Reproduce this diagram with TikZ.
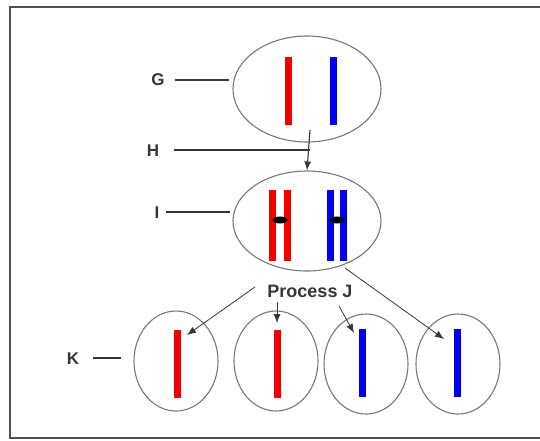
\documentclass[tikz,border=0pt]{standalone}
\usepackage{fontspec}
\setmainfont{Liberation Sans}
\usetikzlibrary{shapes.geometric,arrows.meta}
\definecolor{cellgray}{RGB}{120,120,120}
\definecolor{framegray}{RGB}{80,80,80}
\definecolor{linegray}{RGB}{55,55,55}
\definecolor{chrred}{RGB}{245,0,0}
\definecolor{chrblue}{RGB}{0,0,245}
\begin{document}
\begin{tikzpicture}[x=1pt,y=-1pt,
  cell/.style={draw=cellgray, line width=1.1pt, ellipse, inner sep=0pt},
  bigcell/.style={cell, minimum width=148pt, minimum height=106pt},
  midcell/.style={cell, minimum width=148pt, minimum height=100pt},
  smallcell/.style={cell, minimum width=84pt, minimum height=100pt},
  bar/.style={rectangle, inner sep=0pt, minimum width=7pt, minimum height=68pt},
  halfbar/.style={rectangle, inner sep=0pt, minimum width=7pt, minimum height=71pt},
  centromere/.style={ellipse, fill=black, inner sep=0pt, minimum width=15pt, minimum height=7pt},
  lbl/.style={font=\bfseries\fontsize{17}{17}\selectfont, text=linegray, inner sep=0pt},
  tick/.style={draw=linegray, line width=1.3pt},
  conn/.style={draw=linegray, line width=0.8pt, -{Latex[length=9pt,width=7pt]}}
]
\useasboundingbox (0,0) rectangle (540,440);
\fill[white] (0,0) rectangle (540,440);
% outer frame
\draw[framegray, line width=2.6pt] (10,7) rectangle (560,438);

% cell G with two chromosomes
\node[bigcell] (G) at (307,89) {};
\node[bar, fill=chrred] (g1) at (288,91) {};
\node[bar, fill=chrblue] (g2) at (333,91) {};

% cell I with duplicated chromosomes
\node[midcell] (I) at (307,221) {};
\node[halfbar, fill=chrred] (i1) at (272,225) {};
\node[halfbar, fill=chrred] (i2) at (287,225) {};
\node[centromere] (ic1) at (280,220) {};
\node[halfbar, fill=chrblue] (i3) at (330,225) {};
\node[halfbar, fill=chrblue] (i4) at (343,225) {};
\node[centromere] (ic2) at (337,220) {};

% four daughter cells K
\node[smallcell] (K1) at (176,361) {};
\node[smallcell] (K2) at (276,361) {};
\node[smallcell] (K3) at (366,364) {};
\node[smallcell] (K4) at (458,364) {};
\node[bar, fill=chrred] (k1) at (177,364) {};
\node[bar, fill=chrred] (k2) at (277,364) {};
\node[bar, fill=chrblue] (k3) at (362,363) {};
\node[bar, fill=chrblue] (k4) at (457,363) {};

% labels
\node[lbl] (Gl) at (158,80) {G};
\node[lbl] (Hl) at (153,151) {H};
\node[lbl] (Il) at (157,213) {I};
\node[lbl] (Kl) at (73,359) {K};
\node[font=\bfseries\fontsize{18}{18}\selectfont, text=linegray, inner sep=0pt] (J) at (310,291) {Process J};

% label leader lines
\coordinate (Gs) at (175,80);
\coordinate (Gend) at (229,80);
\coordinate (Is) at (166,212);
\coordinate (Iend) at (230,212);
\coordinate (Ks) at (93,358);
\coordinate (Kend) at (121,358);
\coordinate (Hs) at (174,150);
\coordinate (Hj) at (310,150);
\coordinate (Htop) at (310,130);
\draw[tick] (Gs) -- (Gend);
\draw[tick] (Is) -- (Iend);
\draw[tick] (Ks) -- (Kend);
\draw[tick] (Hs) -- (Hj);
\draw[conn, line width=1.1pt] (Htop) -- (I.north);

% arrows of process J
\coordinate (a1) at (255,287);
\coordinate (t1) at (187,335);
\coordinate (a2) at (277,302);
\coordinate (t2) at (277,323);
\coordinate (a3) at (339,306);
\coordinate (t3) at (354,333);
\coordinate (a4) at (345,268);
\coordinate (t4) at (444,339);
\draw[conn] (a1) -- (t1);
\draw[conn] (a2) -- (t2);
\draw[conn] (a3) -- (t3);
\draw[conn] (a4) -- (t4);
\end{tikzpicture}
\end{document}
